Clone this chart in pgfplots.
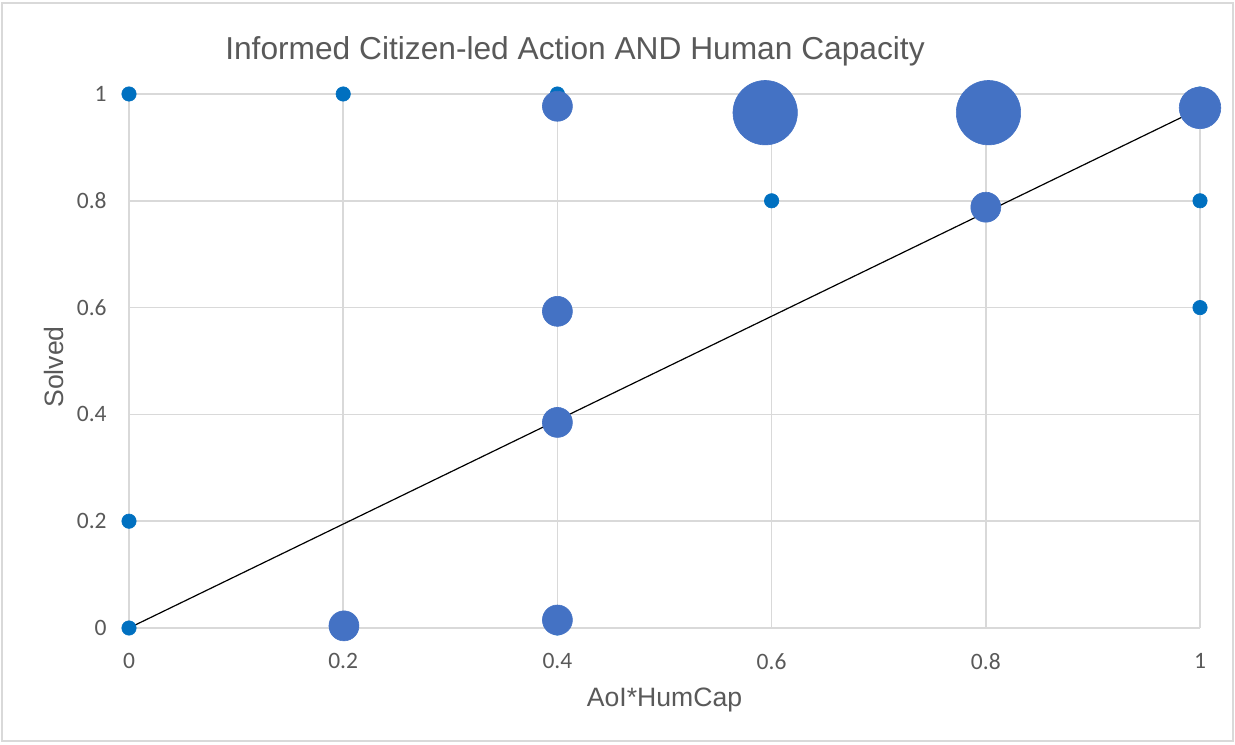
\documentclass[border=0pt]{standalone}
\usepackage{pgfplots}
\pgfplotsset{compat=1.18}
\usepackage{fontspec}
\setmainfont{Liberation Sans}
\newfontfamily\calibri{Carlito}
\definecolor{txt}{HTML}{595959}
\definecolor{gridc}{HTML}{D9D9D9}
\definecolor{dot}{HTML}{0070C0}
\definecolor{bub}{HTML}{4472C4}

\begin{document}
\begin{tikzpicture}[x=1pt,y=1pt]
\useasboundingbox (0,0) rectangle (617.5,372);
\draw[gridc, line width=0.6pt] (1,1.5) rectangle (616.5,370.5);
\begin{axis}[
  at={(64.5pt,58pt)}, anchor=south west,
  width=535.5pt, height=267pt, scale only axis,
  xmin=0, xmax=1, ymin=0, ymax=1,
  xtick={0,0.2,0.4,0.6,0.8,1}, xticklabels={0,0.2,0.4,0.6,0.8,1},
  ytick={0,0.2,0.4,0.6,0.8,1}, yticklabels={0,0.2,0.4,0.6,0.8,1},
  grid=major, major grid style={gridc, line width=0.75pt},
  axis line style={draw=none},
  major tick length=0pt,
  tick label style={font=\calibri\fontsize{11.75}{14}\selectfont, text=txt, inner sep=0pt},
  xticklabel style={anchor=north, yshift=-12.5pt},
  yticklabel style={anchor=east, xshift=-11pt},
  clip=false,
]
% small data points
\addplot[only marks, mark=*, color=dot, mark size=3.6pt, mark options={fill=dot, draw=dot, line width=0.3pt}] coordinates {
  (0,1) (0.2,1) (0.4,1) (0,0.2) (0,0) (0.6,0.8) (1,0.8) (1,0.6) (0.4,0) (1,1)
};
% small bubbles
\addplot[only marks, mark=*, color=bub, mark size=7.5pt, mark options={fill=bub, draw=bub, line width=0.3pt}] coordinates {
  (0.4,0.977) (0.8,0.788) (0.4,0.593) (0.4,0.385) (0.2007,0.004) (0.4,0.015)
};
% medium bubble
\addplot[only marks, mark=*, color=bub, mark size=10.4pt, mark options={fill=bub, draw=bub, line width=0.3pt}] coordinates {
  (1,0.974)
};
% large bubbles
\addplot[only marks, mark=*, color=bub, mark size=16.1pt, mark options={fill=bub, draw=bub, line width=0.3pt}] coordinates {
  (0.594,0.965) (0.8025,0.965)
};
% trend line
\addplot[black, line width=0.6pt] coordinates {(0,0) (1,0.973)};
\end{axis}
\node[anchor=base, font=\fontsize{15.85}{19}\selectfont, text=txt] at (287.5,342) {Informed Citizen-led Action AND Human Capacity};
\node[anchor=base, font=\fontsize{13.3}{16}\selectfont, text=txt] at (332.25,19) {AoI*HumCap};
\node[anchor=base, rotate=90, font=\fontsize{13.3}{16}\selectfont, text=txt] at (31.5,188.5) {Solved};
\end{tikzpicture}
\end{document}
